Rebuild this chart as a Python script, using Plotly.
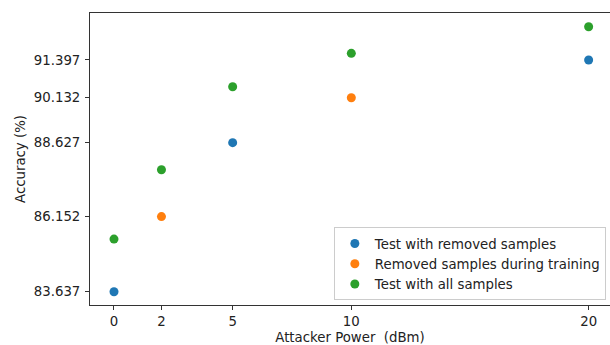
import plotly.graph_objects as go

# Attacker power levels (dBm) and accuracies (%) per evaluation setting
power_removed = [0, 5, 20]
acc_removed = [83.637, 88.627, 91.397]

power_training = [2, 10]
acc_training = [86.152, 90.132]

power_all = [0, 2, 5, 10, 20]
acc_all = [85.40, 87.72, 90.50, 91.62, 92.51]

x_ticks = [0, 2, 5, 10, 20]
y_ticks = [83.637, 86.152, 88.627, 90.132, 91.397]

series = [
    ("Test with removed samples", power_removed, acc_removed, "#1f77b4"),
    ("Removed samples during training", power_training, acc_training, "#ff7f0e"),
    ("Test with all samples", power_all, acc_all, "#2ca02c"),
]

fig = go.Figure()
for name, xs, ys, color in series:
    fig.add_trace(go.Scatter(
        x=xs, y=ys, mode="markers", name=name,
        marker=dict(color=color, size=9, line=dict(width=0)),
    ))

font = dict(family="DejaVu Sans", size=13.3, color="#222222")

fig.update_layout(
    width=610, height=345,
    margin=dict(l=90, r=0, t=13, b=40, pad=0),
    paper_bgcolor="white", plot_bgcolor="white",
    font=font,
    showlegend=True,
    legend=dict(
        x=0.992, y=0.016, xanchor="right", yanchor="bottom",
        bgcolor="rgba(255,255,255,0.8)", bordercolor="#cccccc", borderwidth=1,
        font=font,
        itemsizing="trace", tracegroupgap=0,
    ),
    xaxis=dict(
        range=[-1.011, 20.9], tickmode="array", tickvals=x_ticks,
        ticktext=[str(v) for v in x_ticks],
        showgrid=False, zeroline=False,
        showline=True, linecolor="#333333", linewidth=1, mirror=True,
        ticks="outside", ticklen=4, tickcolor="#333333",
        title=dict(text="Attacker Power  (dBm)", standoff=6, font=font),
    ),
    yaxis=dict(
        range=[83.192, 92.97], tickmode="array", tickvals=y_ticks,
        ticktext=[f"{v:.3f}" for v in y_ticks],
        showgrid=False, zeroline=False,
        showline=True, linecolor="#333333", linewidth=1, mirror=False,
        ticks="outside", ticklen=4, tickcolor="#333333",
        ticklabelstandoff=2,
        title=dict(text="Accuracy (%)", standoff=5, font=font),
    ),
)

fig.write_html("out.html")
